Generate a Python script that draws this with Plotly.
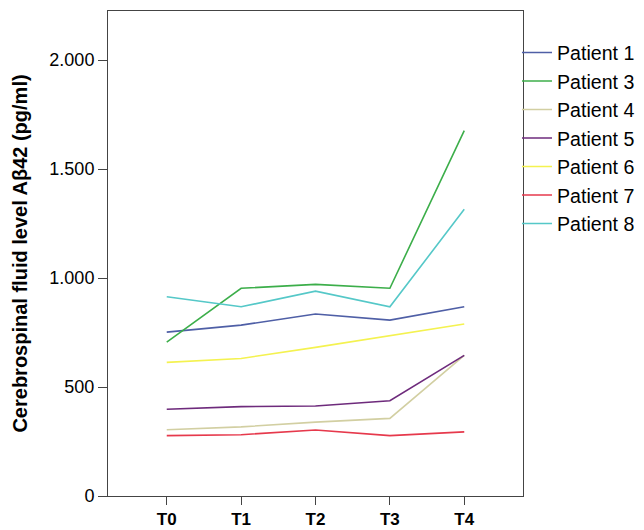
import plotly.graph_objects as go

timepoints = ["T0", "T1", "T2", "T3", "T4"]
patients = ["Patient 1", "Patient 3", "Patient 4", "Patient 5", "Patient 6", "Patient 7", "Patient 8"]
p1 = [752, 784, 835, 807, 868]
p3 = [706, 953, 971, 953, 1676]
p4 = [304, 317, 339, 356, 645]
p5 = [398, 410, 413, 437, 645]
p6 = [613, 631, 682, 734, 789]
p7 = [277, 281, 303, 277, 294]
p8 = [914, 868, 940, 868, 1315]
series = [p1, p3, p4, p5, p6, p7, p8]
colors = ["#4f5fa6", "#3cae4a", "#d2cfa2", "#6e2b7c", "#f4f250", "#e6394c", "#55c8c8"]

fig = go.Figure()
for name, vals, c in zip(patients, series, colors):
    fig.add_trace(go.Scatter(x=list(range(len(timepoints))), y=vals, mode="lines",
                             name=name, line=dict(color=c, width=1.6)))

fig.update_layout(
    width=636, height=522,
    margin=dict(l=100, r=121, t=3, b=34, autoexpand=False),
    paper_bgcolor="white", plot_bgcolor="white",
    font=dict(family="Liberation Sans, Arial, sans-serif", color="black"),
    showlegend=True,
    legend=dict(x=0.9855, xanchor="left", y=0.954, yanchor="top",
                font=dict(size=19.6), bgcolor="rgba(0,0,0,0)",
                itemwidth=30, tracegroupgap=0),
)
fig.update_xaxes(
    range=[-0.79, 4.79], tickmode="array", tickvals=list(range(len(timepoints))),
    ticktext=["<b>%s</b>" % t for t in timepoints],
    showgrid=False, zeroline=False, showline=True, linecolor="#444", linewidth=1,
    mirror=True, ticks="outside", ticklen=8, tickcolor="#444",
    tickfont=dict(size=17), automargin=False,
)
fig.update_yaxes(
    range=[0, 2225], tickvals=[0, 500, 1000, 1500, 2000],
    ticktext=["0", "500", "1.000", "1.500", "2.000"],
    showgrid=False, zeroline=False, showline=True, linecolor="#444", linewidth=1,
    mirror=True, ticks="outside", ticklen=9, tickcolor="#444",
    tickfont=dict(size=18), automargin=False,
    title=dict(text="<b>Cerebrospinal fluid level Aβ42 (pg/ml)</b>", font=dict(size=20), standoff=16),
)

fig.write_html("out.html")
